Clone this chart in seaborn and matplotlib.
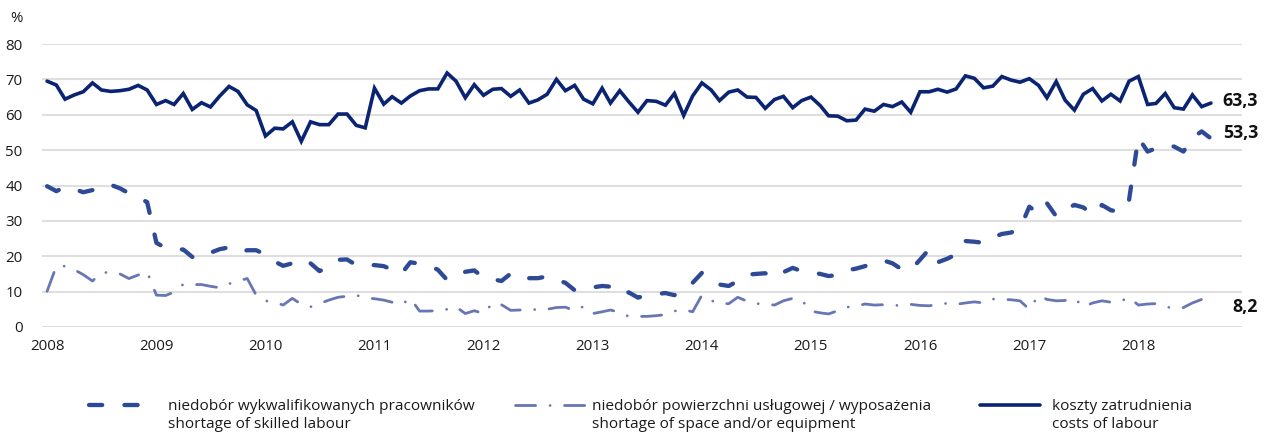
import matplotlib
matplotlib.use("Agg")
import matplotlib.pyplot as plt
import matplotlib.dates as mdates
from matplotlib.lines import Line2D
import numpy as np
import pandas as pd
import seaborn as sns

# Monthly survey shares (%), January 2008 - September 2018
months = pd.date_range("2008-01-01", periods=129, freq="MS")

skilled_labour = [
    39.8, 38.4, 39.6, 39.0, 38.1, 38.7, 40.0, 40.2, 39.2, 37.8, 36.6, 35.3,
    23.8, 22.3, 22.0, 21.9, 19.8, 19.5, 21.0, 22.0, 22.5, 21.2, 21.7, 21.7,
    20.5, 18.5, 17.3, 18.0, 16.8, 18.0, 15.8, 17.0, 19.0, 19.1, 17.5, 17.5,
    17.5, 17.2, 16.2, 15.0, 18.3, 17.9, 17.3, 16.2, 13.3, 14.5, 15.6, 16.0,
    14.0, 13.5, 13.0, 15.1, 15.2, 13.8, 13.8, 14.3, 13.3, 12.5, 10.4, 11.1,
    11.2, 11.6, 11.4, 9.3, 9.8, 8.3, 9.0, 9.3, 9.6, 9.0, 10.2, 12.5,
    15.3, 13.9, 12.0, 11.6, 13.0, 14.8, 15.0, 15.2, 13.9, 15.5, 16.7, 15.8,
    15.5, 15.0, 14.4, 14.7, 16.0, 16.5, 17.2, 18.2, 18.8, 18.0, 16.3, 16.1,
    19.0, 22.0, 18.3, 19.3, 20.5, 24.3, 24.1, 23.8, 25.3, 26.3, 26.7, 27.8,
    34.0, 32.1, 35.0, 31.3, 33.3, 34.5, 33.8, 31.8, 34.5, 33.0, 32.6, 36.0,
    53.5, 49.6, 50.5, 51.3, 51.0, 49.6, 53.5, 55.3, 53.3,
]

space_equipment = [
    10.1, 17.2, 17.2, 16.2, 14.8, 13.0, 15.4, 15.4, 15.0, 13.7, 14.7, 15.6,
    9.0, 8.9, 9.9, 12.1, 12.0, 12.0, 11.5, 11.1, 12.2, 13.0, 13.7, 9.0,
    7.4, 7.0, 6.2, 8.1, 6.4, 5.7, 6.6, 7.6, 8.4, 8.7, 9.0, 8.2,
    8.0, 7.6, 7.0, 6.3, 8.1, 4.5, 4.5, 4.6, 5.0, 5.7, 3.8, 4.6,
    3.8, 6.8, 6.3, 4.7, 4.8, 4.8, 5.0, 5.0, 5.5, 5.6, 4.6, 5.8,
    3.8, 4.3, 4.8, 4.1, 3.0, 3.0, 3.0, 3.2, 3.5, 4.5, 4.9, 4.3,
    9.0, 7.5, 6.6, 6.6, 8.4, 7.3, 6.6, 6.5, 6.2, 7.4, 8.1, 7.6,
    4.5, 4.0, 3.7, 4.6, 5.6, 5.9, 6.5, 6.2, 6.3, 6.2, 6.0, 6.4,
    6.1, 6.0, 6.4, 6.7, 6.4, 6.8, 7.1, 6.8, 7.9, 7.8, 7.7, 7.4,
    5.0, 8.9, 7.8, 7.4, 7.5, 8.1, 5.7, 6.8, 7.4, 7.0, 7.2, 8.4,
    6.2, 6.5, 6.6, 5.8, 5.2, 5.5, 6.8, 7.8, 8.2,
]

labour_costs = [
    69.5, 68.4, 64.4, 65.6, 66.5, 69.0, 67.0, 66.6, 66.8, 67.2, 68.3, 67.0,
    62.9, 64.0, 62.9, 66.0, 61.5, 63.4, 62.2, 65.3, 68.0, 66.6, 62.8, 61.2,
    54.0, 56.2, 56.0, 58.0, 52.5, 58.0, 57.2, 57.2, 60.2, 60.2, 57.0, 56.3,
    67.5, 63.0, 65.1, 63.3, 65.3, 66.8, 67.3, 67.3, 71.8, 69.5, 64.8, 68.5,
    65.5, 67.2, 67.4, 65.2, 67.0, 63.3, 64.2, 65.8, 70.0, 66.8, 68.3, 64.4,
    63.1, 67.5, 63.3, 66.8, 63.7, 60.7, 64.0, 63.8, 62.7, 66.0, 59.8, 65.3,
    69.0, 67.0, 64.0, 66.4, 67.0, 65.0, 64.9, 61.8, 64.3, 65.2, 62.0, 64.0,
    65.0, 62.6, 59.7, 59.6, 58.3, 58.5, 61.6, 61.0, 62.9, 62.3, 63.6, 60.7,
    66.5, 66.5, 67.2, 66.4, 67.3, 71.0, 70.3, 67.6, 68.1, 70.8, 69.8, 69.2,
    70.2, 68.3, 64.8, 69.4, 64.1, 61.3, 65.8, 67.4, 63.9, 65.8, 63.9, 69.5,
    70.8, 62.9, 63.2, 66.0, 62.0, 61.6, 65.6, 62.3, 63.3,
]

legend_pl = [
    "niedobór wykwalifikowanych pracowników",
    "niedobór powierzchni usługowej / wyposażenia",
    "koszty zatrudnienia",
]
legend_en = [
    "shortage of skilled labour",
    "shortage of space and/or equipment",
    "costs of labour",
]
end_labels = ["53,3", "8,2", "63,3"]
y_ticks = [0, 10, 20, 30, 40, 50, 60, 70, 80]
year_ticks = list(range(2008, 2019))

# ---------------------------------------------------------------- styling
sns.set_theme(style="white")
plt.rcParams["font.family"] = ["Open Sans", "DejaVu Sans"]
plt.rcParams["lines.scale_dashes"] = False

W, H = 1268, 437
fig = plt.figure(figsize=(W / 100, H / 100), dpi=100)
ax = fig.add_axes([42 / W, 1 - 327 / H, 1200 / W, 283 / H])

c_skill = "#2e4a97"
c_space = "#6877b4"
c_cost = "#0b2472"
grid_c = "#dfdfdf"

styles = [
    dict(color=c_skill, lw=3.1, dashes=(9.5, 16.0), dash_capstyle="round",
         solid_capstyle="round", zorder=3),
    dict(color=c_space, lw=2.0, dashes=(14.5, 10.4, 0.01, 10.4),
         dash_capstyle="round", solid_capstyle="round", zorder=3),
    dict(color=c_cost, lw=2.6, linestyle="-", solid_joinstyle="miter",
         solid_capstyle="round", zorder=4),
]
series = [skilled_labour, space_equipment, labour_costs]

for ys, st in zip(series, styles):
    df = pd.DataFrame({"month": months, "value": ys})
    sns.lineplot(data=df, x="month", y="value", ax=ax, legend=False, **st)

# horizontal grid
for yv in y_ticks:
    ax.axhline(yv, color=grid_c, lw=1.5, zorder=1)

ax.set_ylim(0, 80)
ax.set_xlim(pd.Timestamp("2007-12-15"), pd.Timestamp("2018-12-14"))
ax.set_yticks(y_ticks)
ax.set_yticklabels([str(v) for v in y_ticks])
ax.set_xticks([pd.Timestamp(f"{y}-01-01") for y in year_ticks])
ax.xaxis.set_major_formatter(mdates.DateFormatter("%Y"))
ax.tick_params(axis="both", length=0, labelsize=10.8, colors="#1a1a1a")
ax.tick_params(axis="y", pad=14)
ax.tick_params(axis="x", pad=9)
ax.set_xlabel("")
ax.set_ylabel("")
for s in ax.spines.values():
    s.set_visible(False)

fig.text(10 / W, 1 - 18 / H, "%", fontsize=10.8, color="#1a1a1a",
         ha="left", va="center")

# value labels at the line ends
offsets = [4.0, -6.5, 1.4]
for ys, lab, dy in zip(series, end_labels, offsets):
    ax.annotate(lab, xy=(months[-1], ys[-1]), xytext=(33.8, dy),
                textcoords="offset points", ha="right", va="center",
                fontsize=12.8, fontweight="bold", color="#111111",
                annotation_clip=False)

# legend row: handle on the first text line, two-line label beside it
handle_x = [(89, 151), (515, 585), (980, 1040)]
text_x = [168, 592, 1052]
row_y = 405
for st, (x0, x1), tx, pl, en in zip(styles, handle_x, text_x, legend_pl, legend_en):
    kw = {k: v for k, v in st.items() if k != "zorder"}
    ln = Line2D([x0 / W, x1 / W], [1 - row_y / H, 1 - row_y / H],
                transform=fig.transFigure, **kw)
    fig.add_artist(ln)
    fig.text(tx / W, 1 - (row_y - 6) / H, pl + "\n" + en, fontsize=11.1,
             color="#1a1a1a", ha="left", va="top", linespacing=1.3)

fig.savefig("out.png", dpi=100, facecolor="white")
